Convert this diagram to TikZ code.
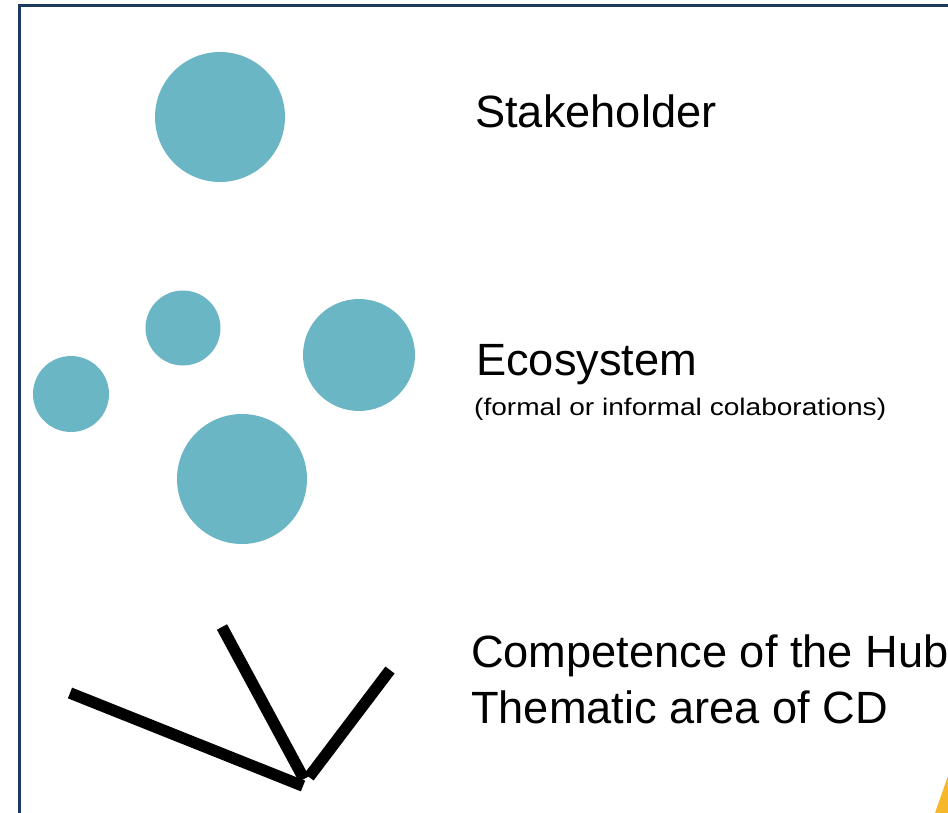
\documentclass[tikz,border=0pt]{standalone}
\usepackage{fontspec}
\setmainfont{Liberation Sans}
\newfontfamily\widefont[FakeStretch=1.17]{Liberation Sans}
\definecolor{teal1}{HTML}{6BB6C4}
\definecolor{navy1}{HTML}{1B3A5E}
\definecolor{gold1}{HTML}{F6B72B}
\begin{document}
\begin{tikzpicture}[x=1pt,y=-1pt,
  dot/.style={fill=teal1,draw=none},
  bar/.style={line width=11.5pt,line cap=butt,black},
  big/.style={anchor=base west,font=\fontsize{45.2}{50}\selectfont,inner sep=0pt},
  small/.style={anchor=base west,font=\widefont\fontsize{24}{28}\selectfont,inner sep=0pt}]
\useasboundingbox (0,0) rectangle (948,813);
% frame
\draw[navy1,line width=3pt] (19,830) -- (19,6) -- (960,6);
% circles
\fill[dot] (220,117) circle (65);
\fill[dot] (183,328) circle (37.5);
\fill[dot] (359,355) circle (56);
\fill[dot] (71,394) circle (38);
\fill[dot] (242,479) circle (65);
% lines
\coordinate (a1) at (70,693);
\coordinate (a2) at (303,786);
\coordinate (b1) at (222,627);
\coordinate (b2) at (304,779);
\coordinate (c1) at (390,670);
\coordinate (c2) at (309,777);
\draw[bar] (a1) -- (a2);
\draw[bar] (b1) -- (b2);
\draw[bar] (c1) -- (c2);
% texts
\node[big] (t1) at (475,128) {Stakeholder};
\node[big] (t2) at (476,375) {Ecosystem};
\node[small] (t3) at (474,415) {(formal or informal colaborations)};
\node[big] (t4) at (471,667) {Competence of the Hub};
\node[big] (t5) at (471,723) {Thematic area of CD};
% yellow corner
\fill[gold1] (935,813) -- (948,776) -- (948,813) -- cycle;
\end{tikzpicture}
\end{document}
